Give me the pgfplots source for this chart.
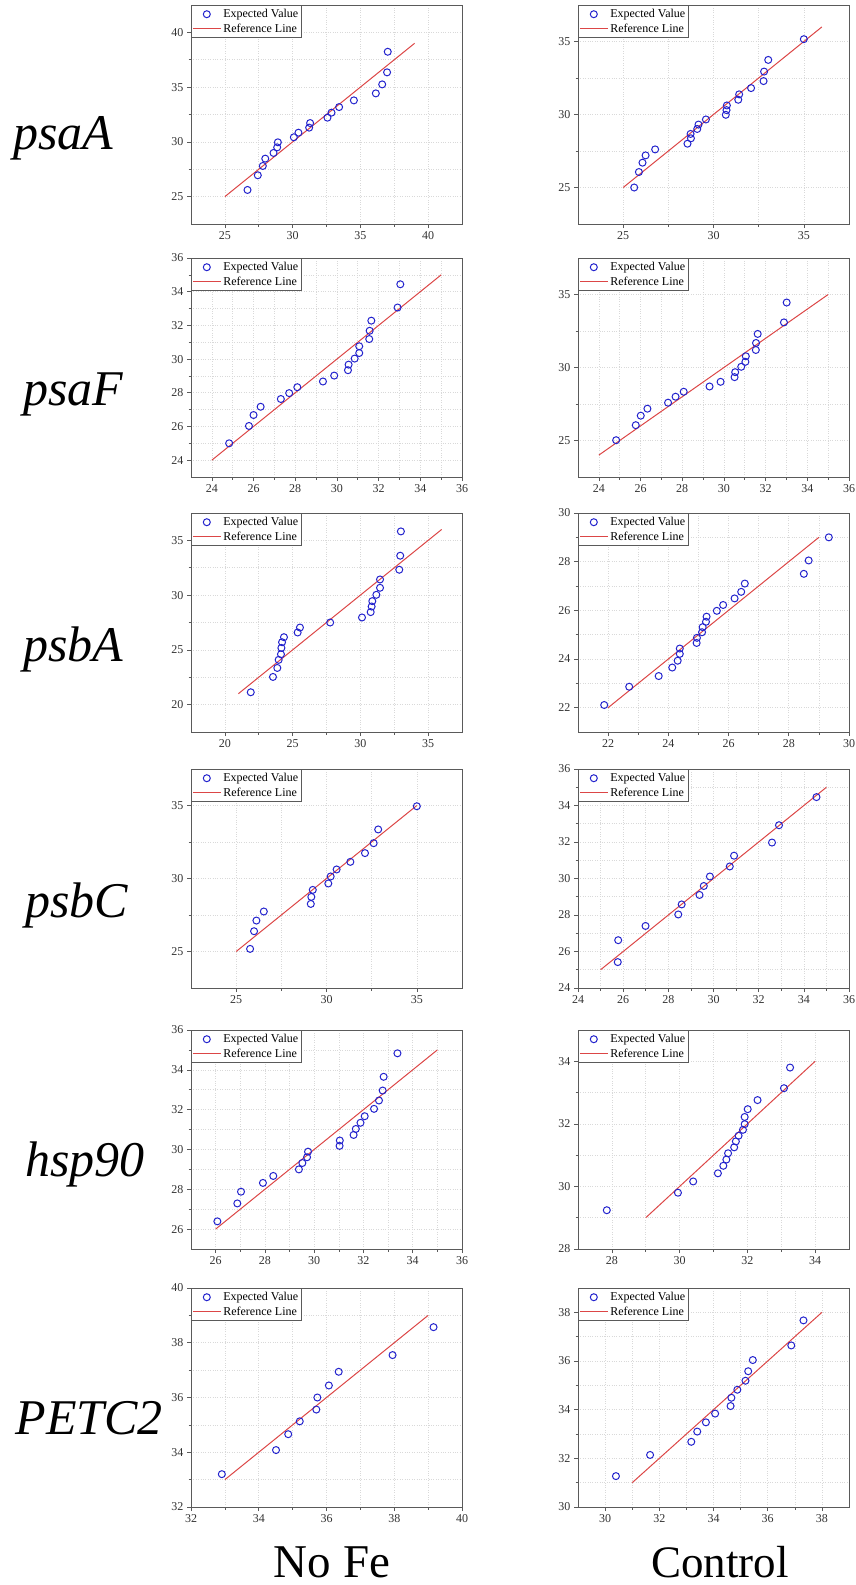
\documentclass[border=0pt]{standalone}
\usepackage{fontspec}
\setmainfont{Liberation Serif}
\usepackage{pgfplots}
\pgfplotsset{compat=1.18}
\definecolor{ptblue}{RGB}{35,35,205}
\definecolor{refred}{RGB}{220,70,70}
\definecolor{frame}{RGB}{90,90,90}

\pgfplotsset{
  qq/.style={
    scale only axis, width=271pt, height=219pt, anchor=north west,
    axis line style={frame, line width=0.9pt},
    tick style={frame, line width=0.6pt},
    tick align=outside, tick pos=left,
    major tick length=4pt, minor tick length=2.5pt,
    minor tick num=1,
    grid=both,
    major grid style={gray!30, dotted, line width=0.6pt},
    minor grid style={gray!30, dotted, line width=0.6pt},
    tick label style={font=\fontsize{12}{13}\selectfont, text=black!80},
    /pgf/number format/assume math mode=true,
    legend cell align=left, reverse legend,
    legend image code/.code={\draw[mark repeat=2,mark phase=2,##1] plot coordinates {(0pt,0pt) (14pt,0pt) (28pt,0pt)};},
    legend style={at={(0,1)}, anchor=north west, draw=frame, fill=white, line width=0.6pt,
      font=\fontsize{12}{12}\selectfont, inner xsep=1pt, inner ysep=2pt, row sep=0.5pt},
  },
  pts/.style={only marks, mark=o, mark size=3.5pt, ptblue, mark options={line width=1pt}},
  ref/.style={refred, line width=1pt, no marks},
}

\begin{document}
\begin{tikzpicture}
\useasboundingbox (0pt,0pt) rectangle (855pt,-1585pt);

% row labels
\begin{scope}[every node/.style={anchor=base west, font=\fontsize{50}{50}\selectfont\itshape}]
\node at (10pt,-149pt) {psaA};
\node at (20pt,-405pt) {psaF};
\node at (20pt,-661pt) {psbA};
\node at (22pt,-917pt) {psbC};
\node at (22pt,-1176pt) {hsp90};
\node at (12pt,-1434pt) {PETC2};
\end{scope}
\node[anchor=base, font=\fontsize{47}{47}\selectfont] at (332pt,-1577pt) {No Fe};
\node[anchor=base, font=\fontsize{45}{45}\selectfont] at (720pt,-1577pt) {Control};

% ---- psaA ----
\begin{axis}[qq, at={(191pt,-5pt)}, xmin=22.5, xmax=42.5, ymin=22.5, ymax=42.5,
  xtick={25,30,35,40}, ytick={25,30,35,40}]
\addplot[ref] coordinates {(25,25) (39,39)};
\addlegendentry{Reference Line}
\addplot[pts] coordinates {(26.67,25.61)(27.43,26.95)(27.80,27.80)(27.98,28.47)(28.59,28.99)(28.86,29.50)(28.91,29.96)(30.09,30.42)(30.43,30.84)(31.22,31.30)(31.29,31.72)(32.57,32.21)(32.87,32.67)(33.43,33.18)(34.52,33.79)(36.14,34.43)(36.61,35.25)(36.97,36.35)(37.02,38.23)};
\addlegendentry{Expected Value}
\end{axis}

\begin{axis}[qq, at={(578pt,-5pt)}, xmin=22.5, xmax=37.5, ymin=22.5, ymax=37.5,
  xtick={25,30,35}, ytick={25,30,35}]
\addplot[ref] coordinates {(25,25) (36,36)};
\addlegendentry{Reference Line}
\addplot[pts] coordinates {(25.61,25.00)(25.87,26.06)(26.07,26.70)(26.24,27.20)(26.77,27.61)(28.56,28.00)(28.75,28.37)(28.73,28.67)(29.10,29.01)(29.17,29.31)(29.58,29.66)(30.68,29.98)(30.72,30.30)(30.74,30.62)(31.37,31.01)(31.42,31.38)(32.08,31.81)(32.77,32.29)(32.80,32.94)(33.03,33.74)(35.00,35.16)};
\addlegendentry{Expected Value}
\end{axis}

% ---- psaF ----
\begin{axis}[qq, at={(191pt,-258pt)}, xmin=23, xmax=36, ymin=23, ymax=36,
  xtick={24,26,...,36}, ytick={24,26,...,36}]
\addplot[ref] coordinates {(24,24) (35,35)};
\addlegendentry{Reference Line}
\addplot[pts] coordinates {(24.83,25.00)(25.78,26.03)(26.00,26.68)(26.34,27.17)(27.31,27.63)(27.71,27.98)(28.10,28.33)(29.33,28.67)(29.87,29.02)(30.53,29.34)(30.56,29.67)(30.85,30.03)(31.07,30.36)(31.07,30.76)(31.55,31.19)(31.57,31.68)(31.65,32.28)(32.91,33.06)(33.04,34.44)};
\addlegendentry{Expected Value}
\end{axis}

\begin{axis}[qq, at={(578pt,-258pt)}, xmin=23, xmax=36, ymin=22.5, ymax=37.5,
  xtick={24,26,...,36}, ytick={25,30,35}]
\addplot[ref] coordinates {(24,24) (35,35)};
\addlegendentry{Reference Line}
\addplot[pts] coordinates {(24.83,25.02)(25.77,26.05)(26.01,26.70)(26.33,27.18)(27.32,27.59)(27.68,28.00)(28.07,28.34)(29.31,28.70)(29.84,29.02)(30.51,29.34)(30.54,29.68)(30.83,30.05)(31.03,30.39)(31.05,30.77)(31.53,31.20)(31.54,31.68)(31.62,32.30)(32.88,33.09)(33.01,34.45)};
\addlegendentry{Expected Value}
\end{axis}

% ---- psbA ----
\begin{axis}[qq, at={(191pt,-513pt)}, xmin=17.5, xmax=37.5, ymin=17.5, ymax=37.5,
  xtick={20,25,30,35}, ytick={20,25,30,35}]
\addplot[ref] coordinates {(21,21) (36,36)};
\addlegendentry{Reference Line}
\addplot[pts] coordinates {(21.91,21.13)(23.55,22.53)(23.87,23.35)(23.97,24.09)(24.14,24.60)(24.17,25.18)(24.22,25.70)(24.36,26.16)(25.37,26.59)(25.54,27.04)(27.77,27.50)(30.12,27.96)(30.76,28.45)(30.83,28.96)(30.88,29.45)(31.18,30.03)(31.45,30.67)(31.45,31.43)(32.87,32.32)(32.94,33.60)(32.99,35.82)};
\addlegendentry{Expected Value}
\end{axis}

\begin{axis}[qq, at={(578pt,-513pt)}, xmin=21, xmax=30, ymin=21, ymax=30,
  xtick={22,24,...,30}, ytick={22,24,...,30}]
\addplot[ref] coordinates {(22,22) (29,29)};
\addlegendentry{Reference Line}
\addplot[pts] coordinates {(21.87,22.11)(22.70,22.86)(23.68,23.30)(24.13,23.65)(24.31,23.93)(24.38,24.21)(24.38,24.43)(24.94,24.66)(24.95,24.87)(25.12,25.10)(25.14,25.31)(25.25,25.53)(25.27,25.74)(25.61,25.98)(25.82,26.22)(26.20,26.49)(26.42,26.76)(26.54,27.10)(28.50,27.50)(28.66,28.05)(29.33,29.00)};
\addlegendentry{Expected Value}
\end{axis}

% ---- psbC ----
\begin{axis}[qq, at={(191pt,-769pt)}, xmin=22.5, xmax=37.5, ymin=22.5, ymax=37.5,
  xtick={25,30,35}, ytick={25,30,35}]
\addplot[ref] coordinates {(25,25) (35,35)};
\addlegendentry{Reference Line}
\addplot[pts] coordinates {(25.77,25.18)(25.99,26.39)(26.12,27.12)(26.53,27.74)(29.13,28.26)(29.16,28.74)(29.24,29.22)(30.10,29.66)(30.23,30.14)(30.56,30.62)(31.32,31.14)(32.13,31.74)(32.61,32.42)(32.86,33.36)(35.00,34.95)};
\addlegendentry{Expected Value}
\end{axis}

\begin{axis}[qq, at={(578pt,-769pt)}, xmin=24, xmax=36, ymin=24, ymax=36,
  xtick={24,26,...,36}, ytick={24,26,...,36}]
\addplot[ref] coordinates {(25,25) (35,35)};
\addlegendentry{Reference Line}
\addplot[pts] coordinates {(25.76,25.42)(25.78,26.62)(26.99,27.40)(28.44,28.03)(28.59,28.58)(29.38,29.10)(29.57,29.59)(29.84,30.11)(30.72,30.66)(30.91,31.25)(32.59,31.97)(32.90,32.92)(34.56,34.46)};
\addlegendentry{Expected Value}
\end{axis}

% ---- hsp90 ----
\begin{axis}[qq, at={(191pt,-1030pt)}, xmin=25, xmax=36, ymin=25, ymax=36,
  xtick={26,28,...,36}, ytick={26,28,...,36}]
\addplot[ref] coordinates {(26,26) (35,35)};
\addlegendentry{Reference Line}
\addplot[pts] coordinates {(26.07,26.39)(26.88,27.29)(27.03,27.88)(27.92,28.32)(28.34,28.67)(29.38,29.00)(29.52,29.32)(29.71,29.61)(29.75,29.89)(31.03,30.18)(31.04,30.45)(31.60,30.73)(31.69,31.03)(31.88,31.34)(32.05,31.67)(32.43,32.04)(32.63,32.46)(32.78,32.96)(32.82,33.65)(33.38,34.83)};
\addlegendentry{Expected Value}
\end{axis}

\begin{axis}[qq, at={(578pt,-1030pt)}, xmin=27, xmax=35, ymin=28, ymax=35,
  xtick={28,30,32,34}, ytick={28,30,32,34}]
\addplot[ref] coordinates {(29,29) (34,34)};
\addlegendentry{Reference Line}
\addplot[pts] coordinates {(27.85,29.24)(29.95,29.80)(30.40,30.16)(31.13,30.42)(31.29,30.66)(31.38,30.86)(31.43,31.06)(31.61,31.25)(31.66,31.44)(31.74,31.62)(31.87,31.81)(31.92,31.99)(31.92,32.22)(32.01,32.47)(32.30,32.76)(33.08,33.14)(33.26,33.80)};
\addlegendentry{Expected Value}
\end{axis}

% ---- PETC2 ----
\begin{axis}[qq, at={(191pt,-1288pt)}, xmin=32, xmax=40, ymin=32, ymax=40,
  xtick={32,34,...,40}, ytick={32,34,...,40}]
\addplot[ref] coordinates {(33,33) (39,39)};
\addlegendentry{Reference Line}
\addplot[pts] coordinates {(32.91,33.20)(34.51,34.08)(34.87,34.66)(35.21,35.13)(35.70,35.56)(35.73,36.00)(36.07,36.44)(36.36,36.94)(37.95,37.55)(39.16,38.57)};
\addlegendentry{Expected Value}
\end{axis}

\begin{axis}[qq, at={(578pt,-1288pt)}, xmin=29, xmax=39, ymin=30, ymax=39,
  xtick={30,32,...,38}, ytick={30,32,...,38}]
\addplot[ref] coordinates {(31,31) (38,38)};
\addlegendentry{Reference Line}
\addplot[pts] coordinates {(30.40,31.27)(31.66,32.14)(33.18,32.68)(33.40,33.10)(33.72,33.48)(34.06,33.84)(34.63,34.15)(34.66,34.49)(34.88,34.82)(35.18,35.19)(35.28,35.58)(35.45,36.04)(36.87,36.64)(37.32,37.67)};
\addlegendentry{Expected Value}
\end{axis}
\end{tikzpicture}
\end{document}
